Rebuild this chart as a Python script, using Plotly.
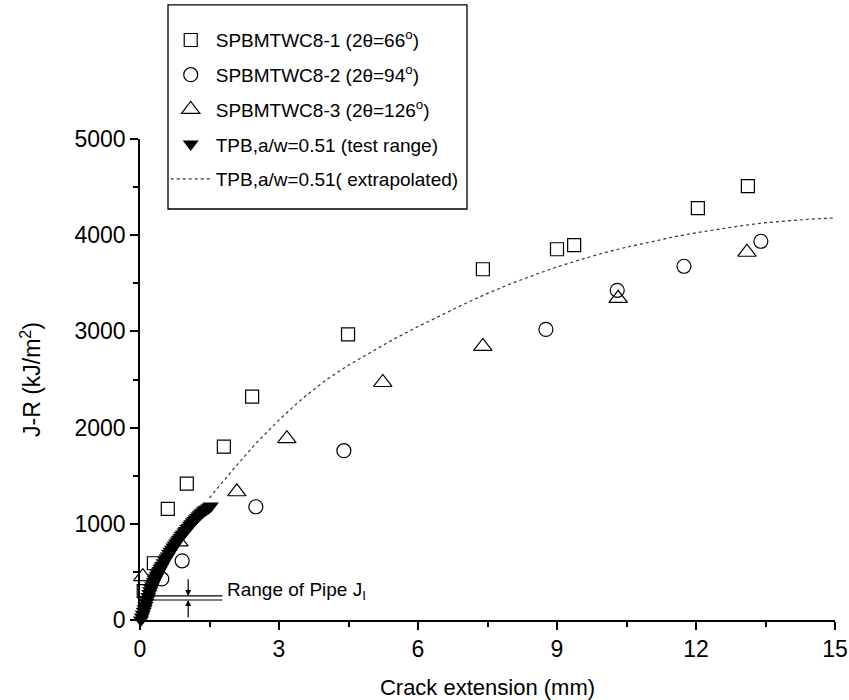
import plotly.graph_objects as go

# ---- data ----
s1_x = [0.08, 0.30, 0.60, 1.01, 1.81, 2.42, 4.49, 7.40, 9.00, 9.37, 12.04, 13.12]
s1_y = [300, 590, 1156, 1417, 1802, 2323, 2969, 3646, 3854, 3896, 4281, 4510]

s2_x = [0.47, 0.91, 2.50, 4.40, 8.76, 10.30, 11.74, 13.40]
s2_y = [427, 615, 1177, 1760, 3021, 3427, 3677, 3937]

s3_x = [0.06, 0.84, 2.09, 3.17, 5.24, 7.40, 10.32, 13.10]
s3_y = [450, 812, 1333, 1885, 2469, 2844, 3344, 3823]

tpb_x = [0.02, 0.04, 0.06, 0.08, 0.10, 0.12, 0.14, 0.16, 0.18, 0.20, 0.22, 0.24,
         0.26, 0.28, 0.30, 0.32, 0.34, 0.36, 0.38, 0.40, 0.42, 0.44, 0.46, 0.48,
         0.51, 0.54, 0.57, 0.60, 0.63, 0.66, 0.69, 0.72, 0.75, 0.78, 0.81, 0.84,
         0.87, 0.90, 0.93, 0.96, 0.99, 1.02, 1.05, 1.08, 1.11, 1.14, 1.17, 1.20,
         1.23, 1.26, 1.29, 1.32, 1.35, 1.38, 1.41, 1.44, 1.47, 1.50, 1.53]
tpb_y = [0, 30, 60, 90, 120, 150, 185, 215, 245, 275, 305, 330,
         355, 380, 400, 420, 440, 460, 480, 500, 515, 535, 550, 570,
         595, 620, 645, 665, 690, 715, 735, 760, 780, 800, 820, 840,
         860, 880, 895, 915, 930, 950, 965, 985, 1000, 1020, 1035, 1050,
         1065, 1080, 1095, 1110, 1120, 1135, 1145, 1155, 1165, 1175, 1185]

ext_x = [1.5, 2.0, 2.5, 3.0, 3.5, 4.0, 4.5, 5.0, 5.5, 6.0, 6.5, 7.0, 7.5, 8.0,
         8.5, 9.0, 9.5, 10.0, 10.5, 11.0, 11.5, 12.0, 12.5, 13.0, 13.5, 14.0, 14.5, 15.0]
ext_y = [1270, 1560, 1835, 2080, 2300, 2490, 2650, 2790, 2925, 3050, 3170, 3285,
         3395, 3495, 3585, 3670, 3745, 3815, 3875, 3930, 3980, 4025, 4065, 4100,
         4130, 4152, 4168, 4180]

x_ticks = [0, 3, 6, 9, 12, 15]
y_ticks = [0, 1000, 2000, 3000, 4000, 5000]

pipe_ji = [208, 250]          # range of pipe J_I (kJ/m2)
pipe_line_x = [0.07, 1.78]
arrow_x = 1.04

FONT = "Liberation Sans, Arial, sans-serif"

fig = go.Figure()
fig.add_trace(go.Scatter(x=s1_x, y=s1_y, mode="markers", name="SPBMTWC8-1 (2θ=66<sup>o</sup>)",
                         legendgroup="a",
                         marker=dict(symbol="square-open", size=13, color="black", line=dict(width=1.2)),
                         cliponaxis=False))
fig.add_trace(go.Scatter(x=s2_x, y=s2_y, mode="markers", name="SPBMTWC8-2 (2θ=94<sup>o</sup>)",
                         legendgroup="b",
                         marker=dict(symbol="circle-open", size=14, color="black", line=dict(width=1.2)),
                         cliponaxis=False))
fig.add_trace(go.Scatter(x=s3_x, y=s3_y, mode="markers", name="SPBMTWC8-3 (2θ=126<sup>o</sup>)",
                         legendgroup="c",
                         marker=dict(symbol="triangle-up-open", size=16, color="black", line=dict(width=1.2)),
                         cliponaxis=False))
fig.add_trace(go.Scatter(x=tpb_x, y=tpb_y, mode="markers", name="TPB,a/w=0.51 (test range)",
                         legendgroup="d",
                         marker=dict(symbol="triangle-down", size=14, color="black", line=dict(width=0)),
                         cliponaxis=False))
fig.add_trace(go.Scatter(x=ext_x, y=ext_y, mode="lines", name="TPB,a/w=0.51( extrapolated)",
                         legendgroup="e",
                         line=dict(color="#333333", width=1.2, dash="dot"), cliponaxis=False))

# legend frame
fig.add_shape(type="rect", xref="paper", yref="paper", x0=0.0403, x1=0.4705, y0=0.8545, y1=1.279,
              line=dict(color="black", width=1.3), fillcolor="white", layer="above")

# pipe J_I range lines
for v in pipe_ji:
    fig.add_shape(type="line", x0=pipe_line_x[0], x1=pipe_line_x[1], y0=v, y1=v,
                  xref="x", yref="y", line=dict(color="black", width=1.2))
# arrows
fig.add_annotation(x=arrow_x, y=pipe_ji[1], ax=arrow_x, ay=440, xref="x", yref="y",
                   axref="x", ayref="y", text="", showarrow=True, arrowhead=2,
                   arrowsize=1, arrowwidth=1.2, arrowcolor="black")
fig.add_annotation(x=arrow_x, y=pipe_ji[0], ax=arrow_x, ay=10, xref="x", yref="y",
                   axref="x", ayref="y", text="", showarrow=True, arrowhead=2,
                   arrowsize=1, arrowwidth=1.2, arrowcolor="black")
fig.add_annotation(x=pipe_line_x[1], y=300, xref="x", yref="y", xanchor="left", yanchor="middle",
                   text="Range of Pipe J<sub>I</sub>", showarrow=False,
                   font=dict(family=FONT, size=19, color="black"), xshift=3)

axis_common = dict(showline=True, linecolor="black", linewidth=1.5, ticks="outside",
                   ticklen=8, tickwidth=1.5, tickcolor="black", showgrid=False, zeroline=False,
                   tickfont=dict(family=FONT, size=23, color="black"))

fig.update_xaxes(range=[0, 15], tickvals=x_ticks, ticktext=[str(t) for t in x_ticks],
                 minor=dict(ticks="outside", ticklen=5, tickwidth=1.5, tickcolor="black", dtick=1.5, tick0=0),
                 title=dict(text="Crack extension (mm)", font=dict(family=FONT, size=22, color="black"), standoff=20),
                 **axis_common)
fig.update_yaxes(range=[0, 5000], tickvals=y_ticks, ticktext=[str(t) for t in y_ticks],
                 minor=dict(ticks="outside", ticklen=5, tickwidth=1.5, tickcolor="black", dtick=500, tick0=0),
                 title=dict(text="J-R (kJ/m<sup>2</sup>)", font=dict(family=FONT, size=23, color="black"), standoff=27),
                 **axis_common)

fig.update_layout(
    width=849, height=700,
    margin=dict(l=140, r=14, t=139, b=80, autoexpand=False),
    paper_bgcolor="white", plot_bgcolor="white",
    font=dict(family=FONT, color="black"),
    legend=dict(x=0.037, y=1.245, xanchor="left", yanchor="top",
                bgcolor="rgba(0,0,0,0)", borderwidth=0,
                font=dict(family=FONT, size=19, color="black"),
                itemwidth=40, tracegroupgap=7),
    showlegend=True,
)

fig.write_html("out.html")
